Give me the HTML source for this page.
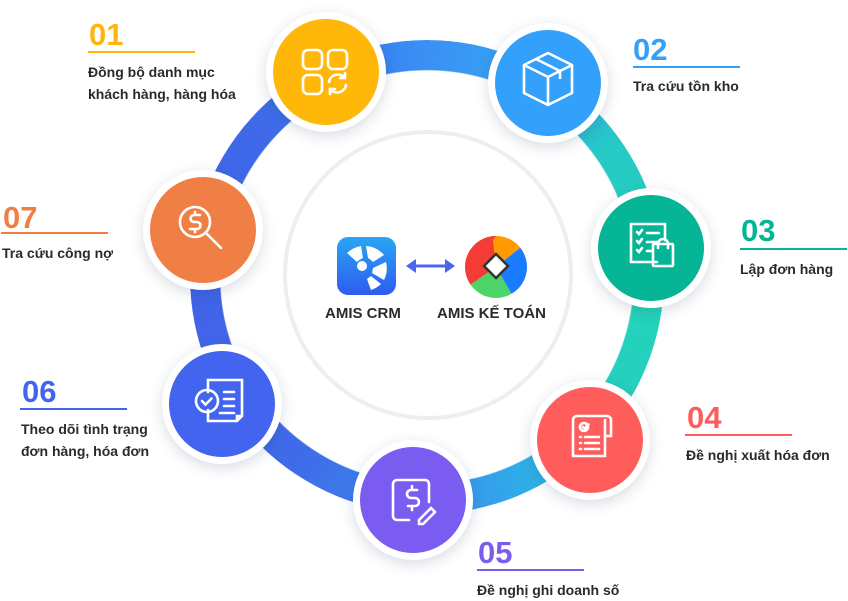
<!DOCTYPE html>
<html><head><meta charset="utf-8">
<style>
html,body{margin:0;padding:0;background:#fff;}
body{width:848px;height:600px;position:relative;overflow:hidden;font-family:"Liberation Sans","Noto Sans CJK SC",sans-serif;}
.ring{position:absolute;left:190px;top:40px;width:474px;height:474px;border-radius:50%;
background:conic-gradient(from 0deg,#3a90f4 0deg,#35a5f2 25deg,#27c9c6 55deg,#22d6b6 90deg,#26cfc0 120deg,#2eb2e6 150deg,#3a8eef 180deg,#3f6be9 215deg,#4163e8 260deg,#3f68e9 310deg,#3a86f3 350deg,#3a90f4 360deg);
-webkit-mask:radial-gradient(circle,transparent 221px,#000 222px);mask:radial-gradient(circle,transparent 221px,#000 222px);}
.ring{-webkit-mask:radial-gradient(circle closest-side,transparent 87%,#000 87.5%);mask:radial-gradient(circle closest-side,transparent 87%,#000 87.5%);}
.inner{position:absolute;left:283px;top:130px;width:282px;height:282px;border-radius:50%;border:4px solid #eceef1;}
.node{position:absolute;width:120px;height:120px;border-radius:50%;background:#fff;box-shadow:0 4px 14px rgba(40,60,100,.18);}
.node .c{position:absolute;left:7px;top:7px;width:106px;height:106px;border-radius:50%;}
.node svg{position:absolute;left:0;top:0;}
.num{position:absolute;font-size:31px;font-weight:bold;line-height:31px;}
.ln{position:absolute;height:2px;width:107px;}
.lbl{position:absolute;font-size:14px;font-weight:bold;color:#2a2a2a;line-height:22px;white-space:nowrap;}
.cl{position:absolute;font-size:15px;font-weight:bold;color:#2a2a2a;white-space:nowrap;}
</style></head><body>
<div class="ring"></div>
<div class="inner"></div>

<!-- 01 -->
<div class="node" style="left:266px;top:12px"><div class="c" style="background:#ffb80a"></div>
<svg width="120" height="120" fill="none" stroke="#fff" stroke-width="2.6" stroke-linecap="round">
<rect x="37" y="38" width="19" height="19" rx="5"/><rect x="62" y="38" width="19" height="19" rx="5"/><rect x="37" y="63" width="19" height="19" rx="5"/>
<path d="M63 70a9 9 0 0 1 16-4M80 73a9 9 0 0 1-16 4M79 61v5h-5M64 82v-5h5"/></svg></div>
<!-- 02 -->
<div class="node" style="left:488px;top:23px"><div class="c" style="background:#33a1fb"></div>
<svg width="120" height="120" fill="none" stroke="#fff" stroke-width="2.6" stroke-linejoin="round">
<path d="M36 42l24-12 24 12v28l-24 12-24-12z M36 42l24 12 24-12 M60 54v28 M48 36l24 12v8"/></svg></div>
<!-- 03 -->
<div class="node" style="left:591px;top:188px"><div class="c" style="background:#06b596"></div>
<svg width="120" height="120" fill="none" stroke="#fff" stroke-width="2.6" stroke-linecap="round">
<path d="M66 74H40V36h34v16"/><path d="M46 44l2 2 3-4M46 53l2 2 3-4M46 62l2 2 3-4M56 45h12M56 54h10M56 63h5"/>
<rect x="62" y="56" width="20" height="22" rx="1"/><path d="M67 60v-4a5 5 0 0 1 10 0v4"/></svg></div>
<!-- 04 -->
<div class="node" style="left:530px;top:380px"><div class="c" style="background:#ff5c5c"></div>
<svg width="120" height="120" fill="none" stroke="#fff" stroke-width="2.6" stroke-linecap="round">
<path d="M43 76V40a4 4 0 0 1 4-4h30a4 4 0 0 1 4 4v16h-6V40M47 36h26M43 76h32V40"/>
<circle cx="54" cy="47" r="4"/><path d="M53 47l1.5 1.5 4-4M50 57h1M55 57h14M50 63h1M55 63h14M50 69h1M55 69h14"/></svg></div>
<!-- 05 -->
<div class="node" style="left:353px;top:440px"><div class="c" style="background:#7a5cf0"></div>
<svg width="120" height="120" fill="none" stroke="#fff" stroke-width="2.6" stroke-linecap="round">
<path d="M56 80H44a4 4 0 0 1-4-4V44a4 4 0 0 1 4-4h28a4 4 0 0 1 4 4v18"/>
<path d="M64 50h-6a4 4 0 0 0 0 8h4a4 4 0 0 1 0 8h-7M59 46v4M59 66v4"/><path d="M66 80l12-12 4 4-12 12h-4z"/></svg></div>
<!-- 06 -->
<div class="node" style="left:162px;top:344px"><div class="c" style="background:#4364ef"></div>
<svg width="120" height="120" fill="none" stroke="#fff" stroke-width="2.6" stroke-linecap="round">
<path d="M46 48V36h34v36l-5 5H46V66M80 72h-5v5"/><circle cx="45" cy="57" r="11"/><path d="M40 57l3.5 3.5 6-6M62 48h10M62 55h10M62 62h10M58 69h14"/></svg></div>
<!-- 07 -->
<div class="node" style="left:143px;top:170px"><div class="c" style="background:#f07f45"></div>
<svg width="120" height="120" fill="none" stroke="#fff" stroke-width="2.6" stroke-linecap="round">
<circle cx="52" cy="52" r="15"/><path d="M63 63l15 15M57 45h-6a3.5 3.5 0 0 0 0 7h3a3.5 3.5 0 0 1 0 7h-7M52 42v3M52 59v3"/></svg></div>

<!-- labels -->
<div class="num" style="left:89px;top:19px;color:#ffb60a">01</div><div class="ln" style="left:88px;top:51px;background:#ffb60a"></div>
<div class="lbl" style="left:88px;top:61px">Đồng bộ danh mục<br>khách hàng, hàng hóa</div>

<div class="num" style="left:633px;top:34px;color:#33a1fb">02</div><div class="ln" style="left:633px;top:66px;background:#33a1fb"></div>
<div class="lbl" style="left:633px;top:75px">Tra cứu tồn kho</div>

<div class="num" style="left:741px;top:215px;color:#06b596">03</div><div class="ln" style="left:740px;top:248px;background:#06b596"></div>
<div class="lbl" style="left:740px;top:258px">Lập đơn hàng</div>

<div class="num" style="left:687px;top:402px;color:#ff5c5c">04</div><div class="ln" style="left:685px;top:434px;background:#ff5c5c"></div>
<div class="lbl" style="left:686px;top:444px">Đề nghị xuất hóa đơn</div>

<div class="num" style="left:478px;top:537px;color:#7a5cf0">05</div><div class="ln" style="left:477px;top:569px;background:#7a5cf0"></div>
<div class="lbl" style="left:477px;top:579px">Đề nghị ghi doanh số</div>

<div class="num" style="left:22px;top:376px;color:#4364ef">06</div><div class="ln" style="left:20px;top:408px;background:#4364ef"></div>
<div class="lbl" style="left:21px;top:418px">Theo dõi tình trạng<br>đơn hàng, hóa đơn</div>

<div class="num" style="left:3px;top:202px;color:#f07f45">07</div><div class="ln" style="left:1px;top:232px;background:#f07f45"></div>
<div class="lbl" style="left:2px;top:242px">Tra cứu công nợ</div>

<!-- center -->
<svg style="position:absolute;left:0;top:0" width="848" height="600">
<defs><linearGradient id="cg" x1="0" y1="0" x2="0" y2="1"><stop offset="0" stop-color="#2aa6f3"/><stop offset="1" stop-color="#2d5cf0"/></linearGradient></defs>
<rect x="337" y="237" width="59" height="58" rx="11" fill="url(#cg)"/>
<g fill="#fff"><circle cx="362" cy="266" r="5"/>
<path d="M347 253a28 28 0 0 1 14-7l2 12a16 16 0 0 0-6 4z"/>
<path d="M366 246a26 26 0 0 1 18 9l-11 7a13 13 0 0 0-5-4z"/>
<path d="M386 262a26 26 0 0 1-2 18l-12-7 1-5z"/>
<path d="M381 284a26 26 0 0 1-10 6l-4-11 4-3z"/></g>
<path d="M414 266h32" stroke="#4a66ee" stroke-width="3"/>
<path d="M406 266l10-7v14z M455 266l-10-7v14z" fill="#4a66ee"/>
<circle cx="496" cy="267" r="31" fill="#fff"/>
<clipPath id="lc"><circle cx="496" cy="267" r="31"/></clipPath>
<g clip-path="url(#lc)">
<path d="M496 267L450 221L490 215L530 240Z" fill="#ff9a00"/>
<path d="M496 267L530 240L540 280L515 300Z" fill="#1a7cff"/>
<path d="M496 267L515 300L480 310L470 285Z" fill="#4cd469"/>
<path d="M496 267L470 285L455 260L475 230L490 215Z" fill="#f33c35"/>
<path d="M496 267L520 232L545 240L545 270L515 300L480 310L455 300L460 275Z" fill="none"/>
<path d="M465 260L490 230L496 236L472 266Z" fill="#f33c35"/>
<path d="M490 230L525 240L528 250L496 236Z" fill="#ff9a00"/>
</g>
<path d="M496 254l12 12-12 12-12-12z" fill="#fff" stroke="#333" stroke-width="2.5"/>
</svg>
<div class="cl" style="left:325px;top:305px">AMIS CRM</div>
<div class="cl" style="left:437px;top:305px">AMIS KẾ TOÁN</div>
</body></html>
